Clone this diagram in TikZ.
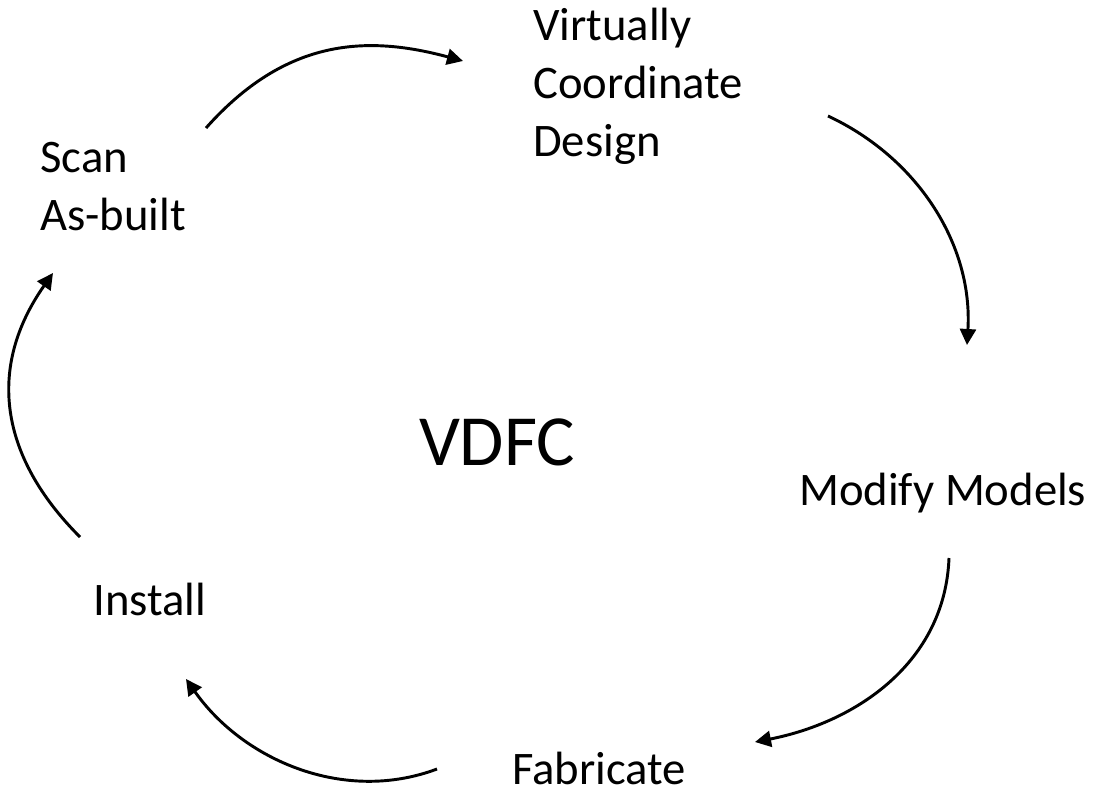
\documentclass[tikz,border=0pt]{standalone}
\usepackage{fontspec}
\setmainfont{Carlito}
\usetikzlibrary{arrows.meta}

\begin{document}
\begin{tikzpicture}[
  x=0.75pt,y=-0.75pt,
  stage/.style={font=\fontsize{35}{43.5}\selectfont,align=left,inner sep=0pt},
  hub/.style={font=\fontsize{54}{65}\selectfont,inner sep=0pt},
  arrow/.style={-{Triangle[length=12pt,width=12pt]},line width=2.2pt}
]
\useasboundingbox (0,0) rectangle (1115,793);

% stages of the cycle (base = last line)
\node[stage,anchor=base west] (vcd) at (533,156) {Virtually\\Coordinate\\Design};
\node[stage,anchor=base west] (modify) at (799,505) {Modify Models};
\node[stage,anchor=base west] (fabricate) at (512,784) {Fabricate};
\node[stage,anchor=base west] (install) at (93,615) {Install};
\node[stage,anchor=base west] (scan) at (40,230) {Scan\\As-built};
\node[hub,anchor=base] (vdfc) at (497,465) {VDFC};

% arrow ends
\coordinate (scan-out) at (206,128);
\coordinate (vcd-in) at (463,61);
\coordinate (vcd-out) at (828,116);
\coordinate (modify-in) at (967,345);
\coordinate (modify-out) at (949,558);
\coordinate (fabricate-in) at (755,742);
\coordinate (fabricate-out) at (437,769);
\coordinate (install-in) at (186,679);
\coordinate (install-out) at (80,537);
\coordinate (scan-in) at (53,273);

\draw[arrow] (scan-out) .. controls (286,38) and (367,35) .. (vcd-in);
\draw[arrow] (vcd-out) .. controls (918,158) and (973,245) .. (modify-in);
\draw[arrow] (modify-out) .. controls (945,662) and (857,722) .. (fabricate-in);
\draw[arrow] (fabricate-out) .. controls (344,804) and (243,760) .. (install-in);
\draw[arrow] (install-out) .. controls (-1,456) and (-13,367) .. (scan-in);
\end{tikzpicture}
\end{document}
